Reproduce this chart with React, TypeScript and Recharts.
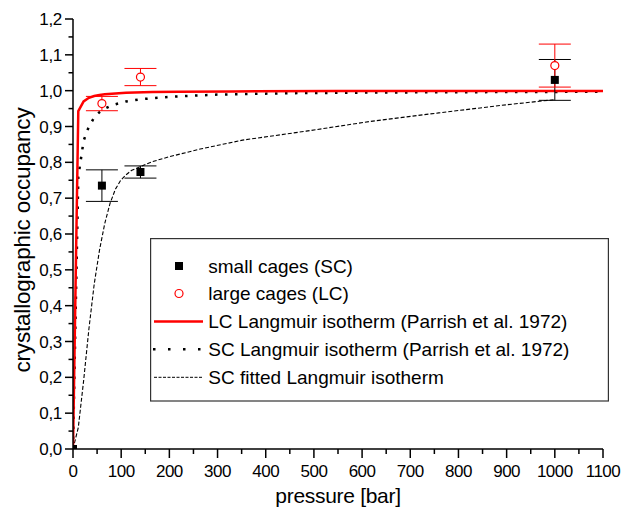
import React from 'react';
import { ComposedChart, Line, Scatter, XAxis, YAxis, ErrorBar } from 'recharts';

// ---- tick labels ----
const pressureTicks = [0, 50, 100, 150, 200, 250, 300, 350, 400, 450, 500, 550, 600, 650, 700, 750, 800, 850, 900, 950, 1000, 1050, 1100];
const occupancyTicks = [0, 0.05, 0.1, 0.15, 0.2, 0.25, 0.3, 0.35, 0.4, 0.45, 0.5, 0.55, 0.6, 0.65, 0.7, 0.75, 0.8, 0.85, 0.9, 0.95, 1.0, 1.05, 1.1, 1.15, 1.2];

// ---- measured points (pressure [bar], occupancy, error) ----
const smallCages = [
  { x: 0, y: 0, err: 0 },
  { x: 60, y: 0.735, err: 0.044 },
  { x: 140, y: 0.773, err: 0.017 },
  { x: 1000, y: 1.03, err: 0.057 },
];
const largeCages = [
  { x: 60, y: 0.964, err: 0.02 },
  { x: 140, y: 1.038, err: 0.024 },
  { x: 1000, y: 1.07, err: 0.06 },
];

// ---- curves ----
const lcLangmuir = [
  { x: 0, y: 0 }, { x: 11, y: 0.943 }, { x: 22, y: 0.97 }, { x: 33, y: 0.98 }, { x: 44, y: 0.985 },
  { x: 55, y: 0.988 }, { x: 66, y: 0.99 }, { x: 88, y: 0.992 }, { x: 110, y: 0.994 }, { x: 165, y: 0.996 },
  { x: 220, y: 0.997 }, { x: 330, y: 0.998 }, { x: 550, y: 0.999 }, { x: 1100, y: 0.999 },
];
const scLangmuir = [
  { x: 0, y: 0 }, { x: 11, y: 0.76 }, { x: 22, y: 0.86 }, { x: 33, y: 0.9 }, { x: 44, y: 0.925 },
  { x: 55, y: 0.94 }, { x: 66, y: 0.95 }, { x: 77, y: 0.957 }, { x: 88, y: 0.962 }, { x: 110, y: 0.97 },
  { x: 140, y: 0.976 }, { x: 200, y: 0.983 }, { x: 300, y: 0.989 }, { x: 450, y: 0.993 }, { x: 650, y: 0.995 },
  { x: 1100, y: 0.997 },
];
const scFitted = [
  { x: 0, y: 0 }, { x: 11, y: 0.06 }, { x: 22, y: 0.19 }, { x: 33, y: 0.335 }, { x: 44, y: 0.46 },
  { x: 55, y: 0.555 }, { x: 66, y: 0.63 }, { x: 77, y: 0.686 }, { x: 88, y: 0.725 }, { x: 99, y: 0.75 },
  { x: 110, y: 0.765 }, { x: 121, y: 0.777 }, { x: 143, y: 0.79 }, { x: 165, y: 0.802 }, { x: 198, y: 0.815 },
  { x: 264, y: 0.837 }, { x: 352, y: 0.862 }, { x: 484, y: 0.887 }, { x: 616, y: 0.914 }, { x: 759, y: 0.938 },
  { x: 902, y: 0.961 }, { x: 1000, y: 0.975 },
];

const legendLabels = [
  'small cages (SC)',
  'large cages (LC)',
  'LC Langmuir isotherm (Parrish et al. 1972)',
  'SC Langmuir isotherm (Parrish et al. 1972)',
  'SC fitted Langmuir isotherm',
];

const FONT = "'Liberation Sans', Arial, sans-serif";

const YTick = (props: any) => {
  const { x, y, payload } = props;
  const v = payload.value as number;
  const major = Math.round(v * 100) % 10 === 0;
  return (
    <g>
      <line x1={x - (major ? 8 : 4.5)} x2={x} y1={y} y2={y} stroke="#000" strokeWidth={1.5} />
      {major && (
        <text x={x - 11} y={y} dy={6} textAnchor="end" fontSize={17} fill="#000" fontFamily={FONT} letterSpacing={-0.3}>
          {v.toFixed(1).replace('.', ',')}
        </text>
      )}
    </g>
  );
};

const XTick = (props: any) => {
  const { x, y, payload } = props;
  const v = payload.value as number;
  const major = v % 100 === 0;
  return (
    <g>
      <line x1={x} x2={x} y1={y} y2={y + (major ? 9 : 5)} stroke="#000" strokeWidth={1.5} />
      {major && (
        <text x={x} y={y + 28} textAnchor="middle" fontSize={17} fill="#000" fontFamily={FONT} letterSpacing={-0.5}>
          {String(v)}
        </text>
      )}
    </g>
  );
};

const SquareShape = (props: any) => {
  const { cx, cy } = props;
  return <rect x={cx - 4} y={cy - 4} width={8} height={8} fill="#000" />;
};
const CircleShape = (props: any) => {
  const { cx, cy } = props;
  return <circle cx={cx} cy={cy} r={4} fill="#fff" stroke="#ff0000" strokeWidth={1.2} />;
};

const Legend = () => {
  const rows = [28, 55.5, 83.5, 111.3, 139.3];
  return (
    <svg
      width={459}
      height={164}
      style={{ position: 'absolute', left: 150, top: 238 }}
    >
      <rect x={0.6} y={0.6} width={457.8} height={162.4} fill="#fff" stroke="#333" strokeWidth={1.2} />
      <rect x={25} y={rows[0] - 4} width={8} height={8} fill="#000" />
      <circle cx={29} cy={rows[1]} r={4} fill="#fff" stroke="#ff0000" strokeWidth={1.2} />
      <line x1={4} x2={53} y1={rows[2]} y2={rows[2]} stroke="#ff0000" strokeWidth={2.5} />
      <line x1={3} x2={53} y1={rows[3]} y2={rows[3]} stroke="#000" strokeWidth={2.5} strokeDasharray="2.5 12.5" />
      <line x1={4} x2={53} y1={rows[4]} y2={rows[4]} stroke="#000" strokeWidth={1} strokeDasharray="3 1.5" />
      {legendLabels.map((t, i) => (
        <text key={t} x={58.3} y={rows[i] + 6.8} fontSize={19} fill="#000" fontFamily={FONT}>
          {t}
        </text>
      ))}
    </svg>
  );
};

export default function App() {
  return (
    <div style={{ position: 'absolute', left: 0, top: 0, width: 623, height: 516, background: '#fff' }}>
      <ComposedChart width={623} height={516} margin={{ top: 19, right: 20, bottom: 0, left: 0 }}>
        <XAxis
          type="number"
          dataKey="x"
          domain={[0, 1100]}
          ticks={pressureTicks}
          interval={0}
          height={67}
          tickSize={0}
          tickMargin={0}
          tickLine={false}
          axisLine={{ stroke: '#000', strokeWidth: 1.5 }}
          tick={<XTick />}
          allowDataOverflow
        />
        <YAxis
          type="number"
          dataKey="y"
          domain={[0, 1.2]}
          ticks={occupancyTicks}
          interval={0}
          width={73}
          tickSize={0}
          tickMargin={0}
          tickLine={false}
          axisLine={{ stroke: '#000', strokeWidth: 1.5 }}
          tick={<YTick />}
          allowDataOverflow
        />
        <Line data={scFitted} dataKey="y" type="linear" stroke="#000" strokeWidth={1.1} strokeDasharray="4 2" dot={false} activeDot={false} isAnimationActive={false} />
        <Line data={scLangmuir} dataKey="y" type="linear" stroke="#000" strokeWidth={2.5} strokeDasharray="2.5 7.5" dot={false} activeDot={false} isAnimationActive={false} />
        <Line data={lcLangmuir} dataKey="y" type="linear" stroke="#ff0000" strokeWidth={2.5} dot={false} activeDot={false} isAnimationActive={false} />
        <Scatter data={smallCages} dataKey="y" shape={<SquareShape />} isAnimationActive={false}>
          <ErrorBar dataKey="err" direction="y" width={16} stroke="#000" strokeWidth={1} />
        </Scatter>
        <Scatter data={largeCages} dataKey="y" shape={<CircleShape />} isAnimationActive={false}>
          <ErrorBar dataKey="err" direction="y" width={16} stroke="#ff0000" strokeWidth={1} />
        </Scatter>
        <text x={338} y={503} textAnchor="middle" fontSize={21} fill="#000" fontFamily={FONT} letterSpacing={-0.3}>
          pressure [bar]
        </text>
        <text transform="translate(30, 240) rotate(-90)" textAnchor="middle" fontSize={22.5} fill="#000" fontFamily={FONT} letterSpacing={-0.2}>
          crystallographic occupancy
        </text>
      </ComposedChart>
      <Legend />
    </div>
  );
}
